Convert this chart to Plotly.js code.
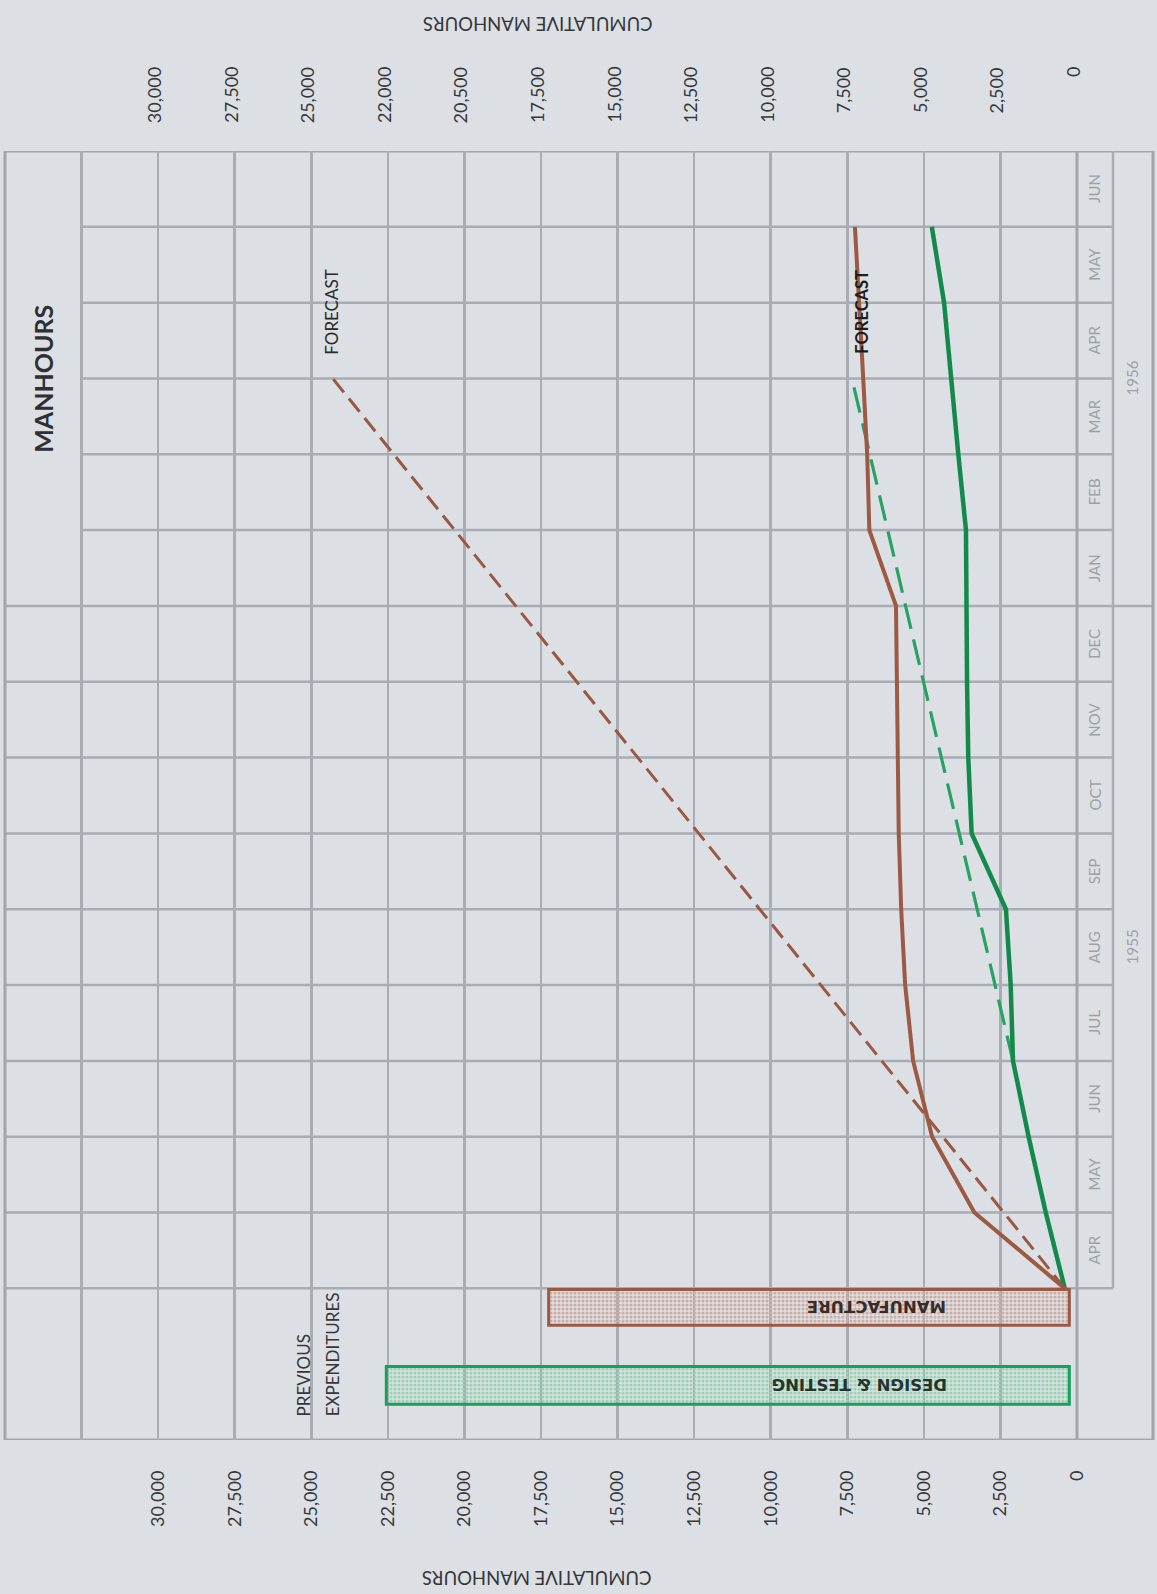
<!DOCTYPE html>
<html>
<head>
<meta charset="utf-8">
<script src="https://cdn.plot.ly/plotly-3.0.1.min.js"></script>
<style>
  html, body { margin: 0; padding: 0; background: #dcdfe3; }
  #chart { width: 1157px; height: 1594px; }
</style>
</head>
<body>
<div id="chart"></div>
<script>
// ---------------- DATA ----------------
// months (rows, bottom to top), April 1955 .. June 1956
const months = ["APR","MAY","JUN","JUL","AUG","SEP","OCT","NOV","DEC","JAN","FEB","MAR","APR","MAY","JUN"];
const yearLabels = ["1955", "1956"];
const yearFirstMonth = [0, 9];     // index of first month of each year
const yearLastMonth = [8, 14];     // index of last month of each year

// cumulative manhours read at month boundaries (0 = start of APR 1955, 14 = end of MAY 1956)
const boundaryIndex = [0,1,2,3,4,5,6,7,8,9,10,11,12,13,14];
const manufactureActual = [400, 3350, 4730, 5350, 5610, 5740, 5820, 5850, 5870, 5910, 6780, 6850, 6980, 7110, 7250];
const designActual      = [400, 1020, 1580, 2090, 2165, 2320, 3440, 3550, 3590, 3625, 3625, 3875, 4090, 4340, 4740];

// forecast lines (dashed)
const manufactureForecastIndex = [0, 12];
const manufactureForecast = [400, 24300];
const designForecastIndex = [3, 12];
const designForecast = [2090, 7350];

// previous expenditures (bars)
const prevCategories = ["MANUFACTURE", "DESIGN & TESTING"];
const prevValues = [17250, 22550];
const prevBase = 250;

// tick labels
const tickValues = [0, 2500, 5000, 7500, 10000, 12500, 15000, 17500, 20000, 22500, 25000, 27500, 30000];
const bottomTickText = ["0","2,500","5,000","7,500","10,000","12,500","15,000","17,500","20,000","22,500","25,000","27,500","30,000"];
const topTickText    = ["0","2,500","5,000","7,500","10,000","12,500","15,000","17,500","20,500","22,000","25,000","27,500","30,000"];

// ---------------- STYLE ----------------
const BG = "#dcdfe3";
const GRID = "#a8acb3";
const FRAME = "#a1a5ac";
const BROWN = "#9c5944";
const BROWN_DASH = "#985842";
const GREEN = "#138a4b";
const GREEN_DASH = "#27a264";
const TXT = "#35373b";
const LIGHT = "#9ca1a9";
const FONT = "Lato, 'DejaVu Sans', sans-serif";

const X_MAX = 35000;      // left edge of the frame
const TITLE_COL = 32500;  // left column (title box) boundary
const Y_MIN = -2, Y_MAX = months.length;
const MONTH_R = 1 + 36 / 1072;  // right edge of month column (paper)
const YEAR_R = 1 + 76 / 1072;   // right edge of year column (paper)
const MONTH_C = 1 + 17 / 1072;
const YEAR_C = 1 + 55 / 1072;
const titleFrom = yearFirstMonth[1]; // title box spans rows of second year

// ---------------- TRACES ----------------
const traces = [
  {
    type: "bar", orientation: "h",
    y: [-0.25, -1.28], x: prevValues.map(v => v - prevBase), base: prevBase,
    width: [0.47, 0.5],
    text: prevCategories, textposition: "none", hoverinfo: "skip",
    marker: {
      color: ["#cdaea5", "#98d4b2"],
      line: { color: [BROWN, "#17a05a"], width: 3 },
      pattern: { shape: ".", fgcolor: ["#a4685a", "#1f9e5c"], bgcolor: ["#d8bfb8", "#b0e0c4"], size: 4, solidity: 0.5 }
    },
    showlegend: false
  },
  {
    type: "scatter", mode: "lines", x: manufactureForecast, y: manufactureForecastIndex,
    line: { color: BROWN_DASH, width: 3, dash: "17px,8px" }, hoverinfo: "skip", showlegend: false
  },
  {
    type: "scatter", mode: "lines", x: designForecast, y: designForecastIndex,
    line: { color: GREEN_DASH, width: 3.2, dash: "26px,11px" }, hoverinfo: "skip", showlegend: false
  },
  {
    type: "scatter", mode: "lines", x: designActual, y: boundaryIndex,
    line: { color: GREEN, width: 4.5 }, hoverinfo: "skip", showlegend: false
  },
  {
    type: "scatter", mode: "lines", x: manufactureActual, y: boundaryIndex,
    line: { color: BROWN, width: 4 }, hoverinfo: "skip", showlegend: false
  }
];

// ---------------- SHAPES (table frame) ----------------
const shapes = [];
const gl = { color: GRID, width: 2.5 };
const fl = { color: FRAME, width: 3 };
for (let k = 0; k <= months.length; k++) {
  const inTitle = k > titleFrom && k < months.length;
  const full = (k === titleFrom || k === months.length);
  shapes.push({ type: "line", xref: "paper", yref: "y", layer: "below",
    x0: inTitle ? 1 - TITLE_COL / X_MAX : 0, x1: full ? YEAR_R : MONTH_R, y0: k, y1: k,
    line: k === months.length ? fl : gl });
}
shapes.push({ type: "line", xref: "paper", yref: "y", layer: "below", x0: MONTH_R, x1: MONTH_R, y0: 0, y1: Y_MAX, line: gl });
shapes.push({ type: "line", xref: "paper", yref: "y", layer: "below", x0: YEAR_R, x1: YEAR_R, y0: Y_MIN, y1: Y_MAX, line: fl });
shapes.push({ type: "line", xref: "paper", yref: "y", layer: "below", x0: 1, x1: 1, y0: Y_MIN, y1: Y_MAX, line: fl });
shapes.push({ type: "line", xref: "paper", yref: "y", layer: "below", x0: 0, x1: 0, y0: Y_MIN, y1: Y_MAX, line: fl });
shapes.push({ type: "line", xref: "paper", yref: "y", layer: "below", x0: 0, x1: YEAR_R, y0: Y_MIN, y1: Y_MIN, line: fl });

// ---------------- ANNOTATIONS ----------------
const annotations = [];
months.forEach((m, i) => annotations.push({
  text: m, xref: "paper", yref: "y", x: MONTH_C, y: i + 0.5, xanchor: "center", yanchor: "middle", showarrow: false,
  textangle: -90, font: { family: FONT, size: 15, color: LIGHT }
}));
yearLabels.forEach((yl, i) => annotations.push({
  text: yl, xref: "paper", yref: "y", x: YEAR_C, y: (yearFirstMonth[i] + yearLastMonth[i] + 1) / 2,
  xanchor: "center", yanchor: "middle", showarrow: false,
  textangle: -90, font: { family: FONT, size: 15, color: LIGHT }
}));
// top scale labels (right-hand scale of the original chart)
tickValues.forEach((v, i) => annotations.push({
  text: topTickText[i], xref: "x", yref: "paper", x: v, y: 1.0667, xanchor: "center", yanchor: "top", xshift: -4,
  showarrow: false, textangle: -90, font: { family: FONT, size: 18, color: TXT }
}));
annotations.push({ text: "<b>MANHOURS</b>", xref: "x", yref: "y", x: (X_MAX + TITLE_COL) / 2, y: (titleFrom + months.length) / 2,
  showarrow: false, textangle: -90, font: { family: FONT, size: 25, color: "#2e3034" } });
annotations.push({ text: "CUMULATIVE MANHOURS", xref: "paper", yref: "paper", x: 0.497, y: 1.0985, xanchor: "center", yanchor: "middle",
  showarrow: false, textangle: 180, font: { family: FONT, size: 18.5, color: TXT } });
annotations.push({ text: "CUMULATIVE MANHOURS", xref: "paper", yref: "paper", x: 0.496, y: -0.107, xanchor: "center", yanchor: "middle",
  showarrow: false, textangle: 180, font: { family: FONT, size: 18.5, color: TXT } });
annotations.push({ text: "PREVIOUS", xref: "x", yref: "y", x: 25270, y: -1.715, yanchor: "bottom", showarrow: false,
  textangle: -90, font: { family: FONT, size: 17, color: TXT } });
annotations.push({ text: "EXPENDITURES", xref: "x", yref: "y", x: 24325, y: -1.715, yanchor: "bottom", showarrow: false,
  textangle: -90, font: { family: FONT, size: 17, color: TXT } });
annotations.push({ text: "FORECAST", xref: "x", yref: "y", x: 24325, y: 12.88, showarrow: false,
  textangle: -90, font: { family: FONT, size: 17, color: "#2a2a2a" } });
annotations.push({ text: "<b>FORECAST</b>", xref: "x", yref: "y", x: 7020, y: 12.88, showarrow: false,
  textangle: -90, font: { family: FONT, size: 16.5, color: "#1d1d1d" } });
annotations.push({ text: "<b>" + prevCategories[0] + "</b>", xref: "x", yref: "y", x: 6530, y: -0.24, showarrow: false,
  textangle: 180, font: { family: "'DejaVu Sans', sans-serif", size: 16.5, color: "#3b2b26" } });
annotations.push({ text: "<b>" + prevCategories[1].replace("&", "&amp;") + "</b>", xref: "x", yref: "y", x: 7085, y: -1.27, showarrow: false,
  textangle: 180, font: { family: "'DejaVu Sans', sans-serif", size: 16.5, color: "#26352c" } });

// ---------------- LAYOUT ----------------
const layout = {
  width: 1157, height: 1594,
  margin: { l: 5, r: 80, t: 151, b: 154, pad: 0 },
  paper_bgcolor: BG, plot_bgcolor: BG,
  showlegend: false,
  barmode: "overlay",
  xaxis: {
    range: [X_MAX, 0], tickvals: tickValues.concat([TITLE_COL]), ticktext: bottomTickText.concat([""]),
    tickangle: -90, ticks: "", ticklabelstandoff: 26,
    tickfont: { family: FONT, size: 18, color: TXT },
    showgrid: true, gridcolor: GRID, gridwidth: 2.5, zeroline: false, showline: false, fixedrange: true
  },
  yaxis: {
    range: [Y_MIN, Y_MAX], showticklabels: false, showgrid: false, zeroline: false, showline: false, ticks: "", fixedrange: true
  },
  shapes: shapes,
  annotations: annotations
};

Plotly.newPlot("chart", traces, layout, { staticPlot: true, displayModeBar: false });
</script>
</body>
</html>
